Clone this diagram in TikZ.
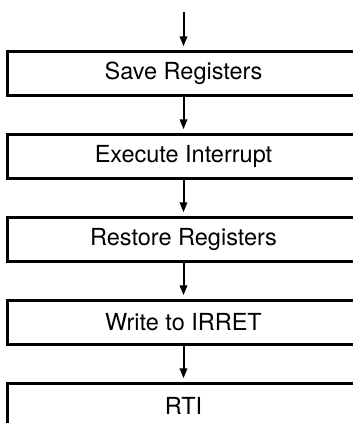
\documentclass[tikz,border=0pt]{standalone}
\usepackage{fontspec}
\setmainfont{TeX Gyre Heros}
\usetikzlibrary{arrows.meta}
\tikzset{
  stepbox/.style={draw, line width=3.5pt, rectangle, minimum width=352pt, minimum height=44pt, inner sep=0pt, font=\fontsize{23.5}{28}\selectfont},
  flow/.style={line width=2pt, -{Triangle[length=10pt,width=7.5pt]}, shorten >=3.5pt}
}
\begin{document}
\begin{tikzpicture}[x=1pt,y=1pt]
\clip (0,0) rectangle (353,-423);
\useasboundingbox (0,0) rectangle (353,-423);
\coordinate (start) at (183.5,-12);
\node[stepbox] (s1) at (183.5,-73.5) {Save Registers};
\node[stepbox] (s2) at (183.5,-156.5) {Execute Interrupt};
\node[stepbox] (s3) at (183.5,-239.5) {Restore Registers};
\node[stepbox] (s4) at (183.5,-322.5) {Write to IRRET};
\node[stepbox] (s5) at (183.5,-405.5) {RTI};
\draw[flow] (start) -- (s1.north);
\draw[flow] (s1.south) -- (s2.north);
\draw[flow] (s2.south) -- (s3.north);
\draw[flow] (s3.south) -- (s4.north);
\draw[flow] (s4.south) -- (s5.north);
\end{tikzpicture}
\end{document}
